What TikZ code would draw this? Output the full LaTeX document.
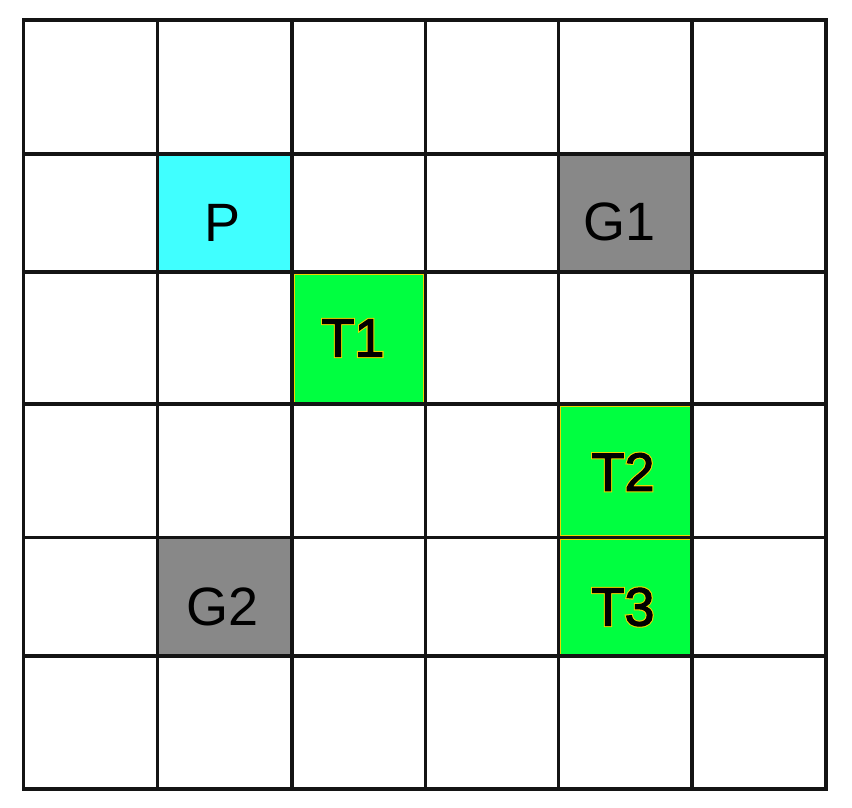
\documentclass[tikz,border=0pt]{standalone}
\usepackage{fontspec}
\setmainfont{Liberation Sans}
\newfontfamily\rimfont[FakeBold=6]{Liberation Sans}
\newfontfamily\heavyfont[FakeBold=2]{Liberation Sans}
\definecolor{cyancell}{HTML}{40FFFF}
\definecolor{graycell}{HTML}{888888}
\definecolor{greencell}{HTML}{00FF40}
\definecolor{edgeyellow}{HTML}{F0D400}
\definecolor{gridline}{HTML}{141414}
\newcommand{\tlabel}[1]{\rlap{\rimfont\color{edgeyellow}#1}{\heavyfont#1}}
\begin{document}
\begin{tikzpicture}[x=1pt,y=-1pt,
  gridstyle/.style={draw=gridline,line width=3.2pt,line cap=rect},
  cyanbox/.style={fill=cyancell},
  graybox/.style={fill=graycell},
  greenbox/.style={fill=greencell,draw=edgeyellow,line width=1pt},
  lbl/.style={font=\fontsize{54}{60}\selectfont,inner sep=0pt,anchor=center}]
\fill[white] (0,0) rectangle (852,808);
\useasboundingbox (0,0) rectangle (852,808);
% coloured cells
\path[cyanbox] (157.5,154) rectangle (292,272);
\path[graybox] (558.5,154) rectangle (692,272);
\path[graybox] (157.5,537.5) rectangle (292,656);
\path[greenbox] (294,274) rectangle (423.5,402);
\path[greenbox] (560.5,406) rectangle (690,535.5);
\path[greenbox] (560.5,539.5) rectangle (690,654);
% grid
\foreach \xx in {23.5,157.5,292,425.5,558.5,692,826}
  \draw[gridstyle] (\xx,20) -- (\xx,789);
\foreach \yy in {20,154,272,404,537.5,656,789}
  \draw[gridstyle] (23.5,\yy) -- (826,\yy);
% labels
\node[lbl] (P) at (223,223) {P};
\node[lbl] (G1) at (620,222) {G1};
\node[lbl] (G2) at (223,607) {G2};
\node[lbl] (T1) at (353,338) {\tlabel{T1}};
\node[lbl] (T2) at (623,472) {\tlabel{T2}};
\node[lbl] (T3) at (623,607) {\tlabel{T3}};
\end{tikzpicture}
\end{document}
